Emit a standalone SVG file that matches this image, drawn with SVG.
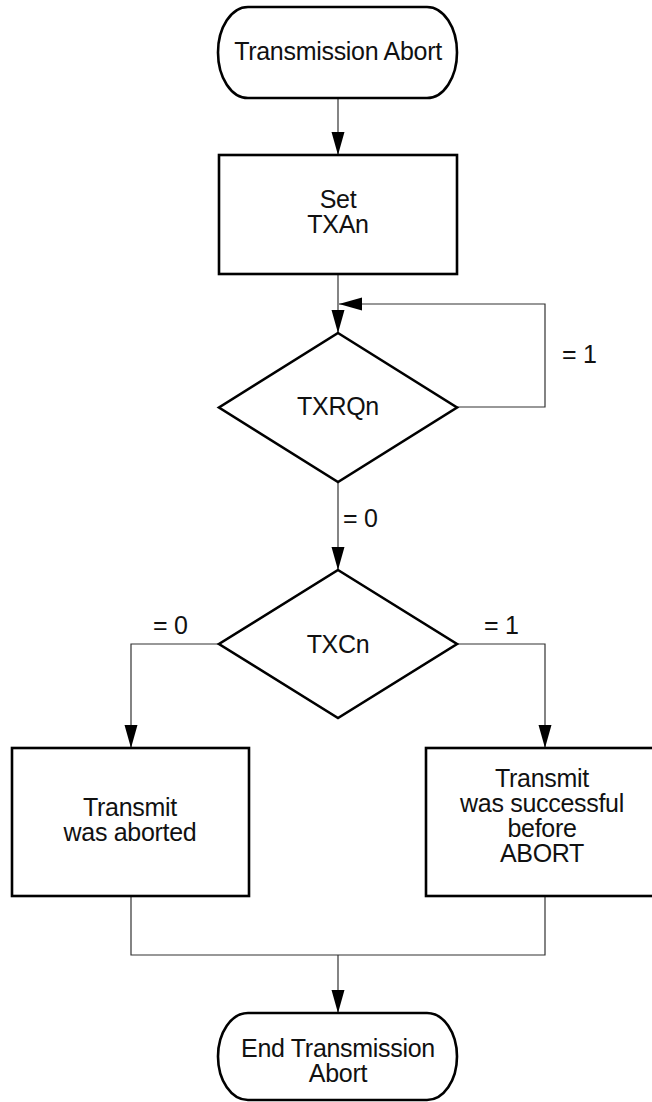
<svg xmlns="http://www.w3.org/2000/svg" width="652" height="1102" viewBox="0 0 652 1102">
  <style>
    .node { fill: #ffffff; stroke: #000000; stroke-width: 2.6; }
    .conn { fill: none; stroke: #333333; stroke-width: 1.2; }
    .lbl { font-family: "Liberation Sans", Arial, sans-serif; font-size: 25px; letter-spacing: -0.3px; fill: #111111; }
    .c { text-anchor: middle; }
  </style>
  <defs>
    <marker id="arrow" markerUnits="userSpaceOnUse" markerWidth="24" markerHeight="14" refX="23" refY="6.5" orient="auto">
      <path d="M0,0 L23,6.5 L0,13 z" fill="#000000"/>
    </marker>
  </defs>
  <rect width="652" height="1102" fill="#ffffff"/>

  <g id="connectors">
    <path class="conn" d="M338,98 L338,155" marker-end="url(#arrow)"/>
    <path class="conn" d="M338,274 L338,333" marker-end="url(#arrow)"/>
    <path class="conn" d="M457,407 L545,407 L545,304 L339,304" marker-end="url(#arrow)"/>
    <path class="conn" d="M338,482 L338,570" marker-end="url(#arrow)"/>
    <path class="conn" d="M219,644 L131,644 L131,748" marker-end="url(#arrow)"/>
    <path class="conn" d="M457,644 L545,644 L545,748" marker-end="url(#arrow)"/>
    <path class="conn" d="M131,896 L131,955 L545,955 L545,896"/>
    <path class="conn" d="M338,955 L338,1013" marker-end="url(#arrow)"/>
    <text class="lbl" x="562" y="363">= 1</text>
    <text class="lbl" x="343" y="527">= 0</text>
    <text class="lbl" x="153" y="634">= 0</text>
    <text class="lbl" x="484" y="634">= 1</text>
  </g>

  <g id="start">
    <rect class="node" x="218" y="7" width="239" height="91" rx="30" ry="45.5"/>
    <text class="lbl c" x="338" y="60">Transmission Abort</text>
  </g>

  <g id="setTXAn">
    <rect class="node" x="219" y="155" width="238" height="119"/>
    <text class="lbl c" x="338" y="208">Set</text>
    <text class="lbl c" x="338" y="233">TXAn</text>
  </g>

  <g id="TXRQn">
    <polygon class="node" points="338,333 457,407.5 338,482 219,407.5"/>
    <text class="lbl c" x="338" y="415">TXRQn</text>
  </g>

  <g id="TXCn">
    <polygon class="node" points="338,570 457,644 338,718 219,644"/>
    <text class="lbl c" x="338" y="653">TXCn</text>
  </g>

  <g id="aborted">
    <rect class="node" x="12" y="748" width="237" height="148"/>
    <text class="lbl c" x="130" y="816">Transmit</text>
    <text class="lbl c" x="130" y="841">was aborted</text>
  </g>

  <g id="successful">
    <rect class="node" x="426" y="748" width="238" height="148"/>
    <text class="lbl c" x="542" y="787">Transmit</text>
    <text class="lbl c" x="542" y="812">was successful</text>
    <text class="lbl c" x="542" y="837">before</text>
    <text class="lbl c" x="542" y="862">ABORT</text>
  </g>

  <g id="end">
    <rect class="node" x="218" y="1013" width="239" height="87" rx="30" ry="43.5"/>
    <text class="lbl c" x="338" y="1057">End Transmission</text>
    <text class="lbl c" x="338" y="1082">Abort</text>
  </g>
</svg>
